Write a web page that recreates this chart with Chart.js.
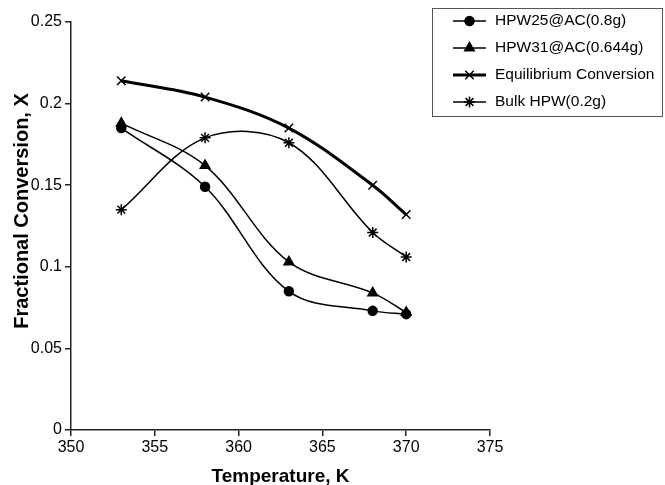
<!DOCTYPE html>
<html>
<head>
<meta charset="utf-8">
<script src="https://cdn.jsdelivr.net/npm/chart.js@4/dist/chart.umd.min.js"></script>
<style>
  html, body { margin: 0; padding: 0; background: #fff; }
  #wrap { width: 665px; height: 485px; position: relative; }
</style>
</head>
<body>
<div id="wrap"><canvas id="chart"></canvas></div>
<script>
// data
const temps = [353, 358, 363, 368, 370];
const hpw25 = [0.185, 0.149, 0.085, 0.073, 0.071];
const hpw31 = [0.188, 0.162, 0.103, 0.084, 0.072];
const equil = [0.214, 0.204, 0.185, 0.150, 0.132];
const bulk = [0.135, 0.179, 0.176, 0.121, 0.106];
const seriesNames = ['HPW25@AC(0.8g)', 'HPW31@AC(0.644g)', 'Equilibrium Conversion', 'Bulk HPW(0.2g)'];
const xTickLabels = ['350', '355', '360', '365', '370', '375'];
const yTickLabels = ['0', '0.05', '0.1', '0.15', '0.2', '0.25'];
const yTitle = 'Fractional Conversion, X';

const FONT = '"Liberation Sans", Arial, sans-serif';
const toPoints = ys => temps.map((t, i) => ({ x: t, y: ys[i] }));

function series(label, ys, style, radius, width) {
  return {
    label: label,
    data: toPoints(ys),
    borderColor: '#000',
    backgroundColor: '#000',
    borderWidth: width,
    pointStyle: style,
    pointRadius: radius,
    pointBorderWidth: 1.5,
    pointBackgroundColor: '#000',
    pointBorderColor: '#000',
    tension: 0.35,
    fill: false,
  };
}

// legend box drawn by hand (line sample + marker + text), plus the y title
const boxLegend = {
  id: 'boxLegend',
  afterDraw(chart) {
    const ctx = chart.ctx;
    const left = 432, top = 8, right = 662, bottom = 116;
    ctx.save();
    ctx.strokeStyle = '#555';
    ctx.lineWidth = 1;
    ctx.strokeRect(left + 0.5, top + 0.5, right - left, bottom - top);
    chart.data.datasets.forEach((ds, i) => {
      const y = 21 + i * 27;
      ctx.strokeStyle = '#000';
      ctx.lineWidth = ds.borderWidth;
      ctx.beginPath();
      ctx.moveTo(453, y);
      ctx.lineTo(486, y);
      ctx.stroke();
      ctx.lineWidth = ds.pointBorderWidth;
      ctx.fillStyle = '#000';
      if (Chart.helpers && Chart.helpers.drawPoint) {
        Chart.helpers.drawPoint(ctx, {
          pointStyle: ds.pointStyle, radius: ds.pointRadius, rotation: 0, borderWidth: ds.pointBorderWidth
        }, 469.5, y);
      }
      ctx.fillStyle = '#000';
      ctx.font = '15.5px ' + FONT;
      ctx.textBaseline = 'middle';
      ctx.textAlign = 'left';
      ctx.fillText(ds.label, 495, y);
    });

    // y axis title, a bit above the plot centre as in the original
    ctx.translate(22, 211);
    ctx.rotate(-Math.PI / 2);
    ctx.font = 'bold 20px ' + FONT;
    ctx.textAlign = 'center';
    ctx.textBaseline = 'middle';
    ctx.fillText(yTitle, 0, 0);
    ctx.restore();
  }
};

new Chart(document.getElementById('chart'), {
  type: 'line',
  data: {
    datasets: [
      series(seriesNames[0], hpw25, 'circle', 4.5, 1.5),
      series(seriesNames[1], hpw31, 'triangle', 5.5, 1.5),
      series(seriesNames[2], equil, 'crossRot', 6, 3),
      series(seriesNames[3], bulk, 'star', 5.5, 1.5),
    ]
  },
  options: {
    responsive: true,
    maintainAspectRatio: false,
    animation: false,
    layout: { padding: { top: 22, right: 175, bottom: 0, left: 0 } },
    plugins: {
      legend: { display: false },
      tooltip: { enabled: false }
    },
    scales: {
      x: {
        type: 'linear',
        min: 350,
        max: 375,
        afterFit(scale) { scale.height = 55; },
        afterBuildTicks(scale) {
          scale.ticks = xTickLabels.map(v => ({ value: Number(v) }));
        },
        ticks: {
          color: '#000',
          font: { family: FONT, size: 16 },
          padding: 2,
          maxRotation: 0,
          callback: (v, i) => xTickLabels[i]
        },
        grid: { drawOnChartArea: false, tickLength: 6, color: '#222', lineWidth: 1.5 },
        border: { color: '#222', width: 1.5 },
        title: {
          display: true,
          text: 'Temperature, K',
          color: '#000',
          font: { family: FONT, size: 19, weight: 'bold' },
          padding: { top: 0, bottom: -3 }
        }
      },
      y: {
        min: 0,
        max: 0.25,
        afterFit(scale) { scale.width = 71; },
        afterBuildTicks(scale) {
          scale.ticks = yTickLabels.map(v => ({ value: Number(v) }));
        },
        ticks: {
          color: '#000',
          font: { family: FONT, size: 16 },
          padding: 3,
          callback: (v, i) => yTickLabels[i]
        },
        grid: { drawOnChartArea: false, tickLength: 6, color: '#222', lineWidth: 1.5 },
        border: { color: '#222', width: 1.5 },
        title: { display: false }
      }
    }
  },
  plugins: [boxLegend]
});
</script>
</body>
</html>
